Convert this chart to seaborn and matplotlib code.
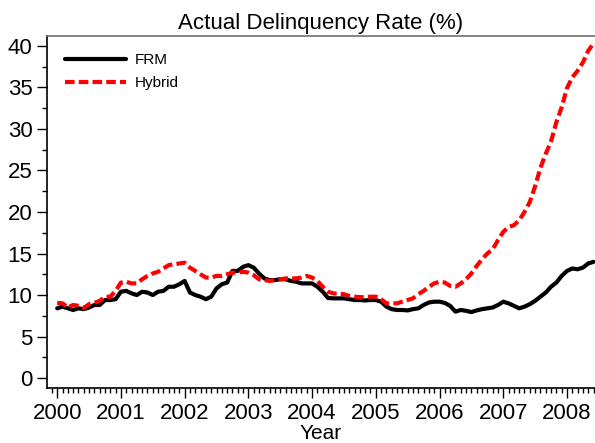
import numpy as np
import pandas as pd
import matplotlib
matplotlib.use("Agg")
import matplotlib.pyplot as plt
import seaborn as sns
from matplotlib.ticker import MultipleLocator

# monthly delinquency rates, Jan 2000 - Jun 2008
frm = [8.4, 8.6, 8.4, 8.2, 8.4, 8.3, 8.5, 8.8, 8.8, 9.4, 9.4, 9.5,
       10.4, 10.5, 10.2, 10.0, 10.4, 10.3, 10.0, 10.4, 10.5, 11.0, 11.0, 11.3,
       11.7, 10.3, 10.0, 9.8, 9.5, 9.8, 10.8, 11.3, 11.5, 12.9, 12.9, 13.4,
       13.6, 13.3, 12.6, 12.0, 11.8, 11.8, 11.9, 11.9, 11.7, 11.6, 11.4, 11.4,
       11.4, 11.0, 10.4, 9.65, 9.6, 9.6, 9.6, 9.5, 9.4, 9.4, 9.35, 9.4,
       9.4, 9.2, 8.6, 8.3, 8.2, 8.2, 8.15, 8.3, 8.4, 8.8, 9.1, 9.2,
       9.2, 9.05, 8.7, 8.0, 8.2, 8.1, 7.95, 8.15, 8.3, 8.4, 8.5, 8.8,
       9.2, 9.0, 8.7, 8.4, 8.6, 8.9, 9.3, 9.8, 10.3, 11.0, 11.5, 12.3,
       12.9, 13.2, 13.1, 13.3, 13.8, 14.0]
hybrid = [9.05, 9.0, 8.5, 8.8, 8.7, 8.45, 8.9, 9.05, 9.3, 9.8, 9.8, 10.5,
          11.5, 11.6, 11.4, 11.4, 11.9, 12.3, 12.6, 12.8, 13.2, 13.6, 13.7, 13.8,
          13.9, 13.3, 12.9, 12.5, 12.1, 12.1, 12.3, 12.3, 12.5, 12.7, 12.7, 12.8,
          12.7, 12.4, 11.9, 11.8, 11.7, 11.8, 11.9, 12.0, 12.0, 12.0, 12.1, 12.3,
          12.1, 11.7, 11.0, 10.4, 10.2, 10.15, 10.1, 9.9, 9.8, 9.75, 9.75, 9.8,
          9.8, 9.5, 9.0, 9.0, 9.0, 9.2, 9.4, 9.6, 10.1, 10.5, 11.0, 11.4,
          11.6, 11.5, 11.1, 11.0, 11.4, 11.9, 12.6, 13.5, 14.3, 15.0, 15.5, 16.6,
          17.6, 18.2, 18.4, 19.0, 20.0, 21.2, 23.1, 25.3, 27.0, 28.5, 30.8, 32.6,
          34.9, 36.2, 37.0, 38.0, 39.4, 40.3]
year_ticks = [2000, 2001, 2002, 2003, 2004, 2005, 2006, 2007, 2008]

t = 2000 + np.arange(len(frm)) / 12
df = pd.DataFrame({"t": t, "FRM": frm, "Hybrid": hybrid})

sns.set_style("ticks")
plt.rcParams['font.family'] = ['Liberation Sans', 'DejaVu Sans']
plt.rcParams.update({'text.color': 'black', 'axes.labelcolor': 'black',
                     'xtick.color': 'black', 'ytick.color': 'black'})

fig = plt.figure(figsize=(5.95, 4.43), dpi=100)
ax = fig.add_axes([0.079, 0.124, 0.921, 0.795])

sns.lineplot(data=df, x="t", y="FRM", color="black", linewidth=3, label="FRM", ax=ax)
sns.lineplot(data=df, x="t", y="Hybrid", color="red", linewidth=3, label="Hybrid",
             ax=ax, dashes=False)
ax.lines[1].set_dashes((2.3, 1.0))

ax.set_xlim(1999.84, 2008.44)
ax.set_ylim(-1.2, 41.2)
ax.set_xticks(year_ticks)
ax.set_yticks(range(0, 41, 5))
ax.xaxis.set_minor_locator(MultipleLocator(1 / 12))
ax.yaxis.set_minor_locator(MultipleLocator(2.5))
ax.tick_params(axis='both', which='major', labelsize=16, length=7, width=1, direction='out')
ax.tick_params(axis='both', which='minor', length=3.5, width=1)

ax.set_xlabel("Year", fontsize=15, labelpad=0)
ax.set_ylabel("")
ax.set_title("Actual Delinquency Rate (%)", fontsize=16, pad=5)

for s in ['left', 'bottom']:
    ax.spines[s].set_color('black')
    ax.spines[s].set_linewidth(1.2)
ax.spines['top'].set_color('#707070')
ax.spines['top'].set_linewidth(1.2)
ax.spines['right'].set_visible(False)

ax.legend(loc='upper left', frameon=False, fontsize=11, handlelength=4,
          handletextpad=0.6, labelspacing=0.55, borderaxespad=0.75)

fig.savefig("out.png", dpi=100)
